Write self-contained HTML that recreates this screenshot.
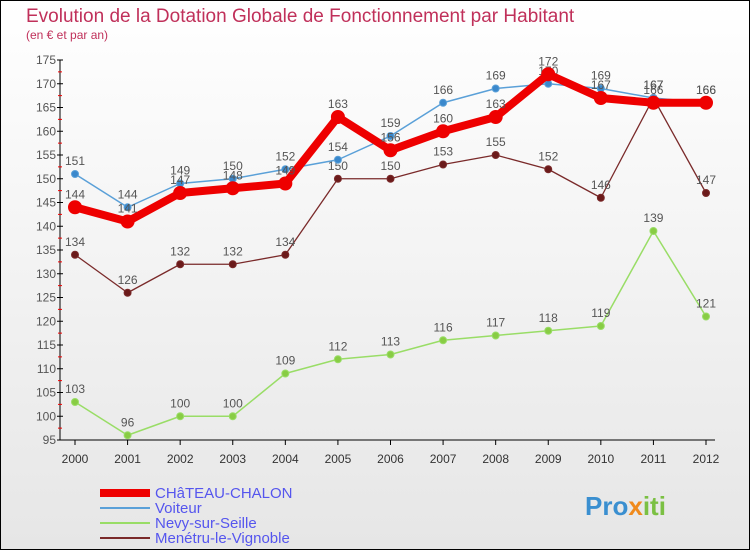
<!DOCTYPE html>
<html><head><meta charset="utf-8"><style>
html,body{margin:0;padding:0}
body{width:750px;height:550px;overflow:hidden;font-family:"Liberation Sans",sans-serif}
svg{display:block}
</style></head><body>
<svg id="c" width="750" height="550" xmlns="http://www.w3.org/2000/svg">
<defs><linearGradient id="bg" x1="0" y1="0" x2="0" y2="1"><stop offset="0" stop-color="#ffffff"/><stop offset="1" stop-color="#e6e6e6"/></linearGradient></defs>
<rect x="0.5" y="0.5" width="749" height="549" fill="url(#bg)" stroke="#000"/>
<text x="26" y="22" font-size="19" fill="#c0305a">Evolution de la Dotation Globale de Fonctionnement par Habitant</text>
<text x="26" y="39" font-size="12" fill="#c0305a">(en € et par an)</text>
<g id="axes"></g>
<g id="series"></g>
<g id="legend"></g>
<text x="585" y="515" font-size="26" font-weight="bold" fill="#3a8fd0">Pro<tspan fill="#f08a1c">x</tspan><tspan fill="#7bc043">iti</tspan></text>
</svg>
<script>
const years=[2000,2001,2002,2003,2004,2005,2006,2007,2008,2009,2010,2011,2012];
const chateau=[144,141,147,148,149,163,156,160,163,172,167,166,166];
const voiteur=[151,144,149,150,152,154,159,166,169,170,169,167,166];
const nevy=[103,96,100,100,109,112,113,116,117,118,119,139,121];
const menetru=[134,126,132,132,134,150,150,153,155,152,146,167,147];
const yTicks=[95,100,105,110,115,120,125,130,135,140,145,150,155,160,165,170,175];
const NS="http://www.w3.org/2000/svg";
function X(i){return 75+i*(706-75)/12;}
function Y(v){return 440-(v-95)*(380/80);}
function mk(t,a,p){const e=document.createElementNS(NS,t);for(const k in a)e.setAttribute(k,a[k]);p.appendChild(e);return e;}
const ax=document.getElementById('axes');
let yl=mk('line',{x1:60,y1:Y(175),x2:60,y2:440,stroke:'#000'},ax);


let xl=mk('line',{x1:60,y1:440,x2:715,y2:440,stroke:'#000'},ax);


yTicks.forEach(v=>{
 mk('line',{x1:57,y1:Y(v),x2:63,y2:Y(v),stroke:'#000'},ax);
 if(v<175) mk('line',{x1:58,y1:Y(v+2.5),x2:62,y2:Y(v+2.5),stroke:'#e00'},ax);
 const t=mk('text',{x:56,y:Y(v)+4,'font-size':12,'text-anchor':'end',fill:'#555'},ax);t.textContent=v;
 
 
});
years.forEach((y,i)=>{
 mk('line',{x1:X(i),y1:440,x2:X(i),y2:445,stroke:'#000'},ax);
 const t=mk('text',{x:X(i),y:463,'font-size':12,'text-anchor':'middle',fill:'#333'},ax);t.textContent=y;
 
 
});
const sg=document.getElementById('series');
function draw(data,color,w,r,dot,name){
 const g=mk('g',{},sg);
 
 
 mk('polyline',{points:data.map((v,i)=>X(i)+','+Y(v)).join(' '),fill:'none',stroke:color,'stroke-width':w,'stroke-linejoin':'round'},g);
 data.forEach((v,i)=>{
  const c=mk('circle',{cx:X(i),cy:Y(v),r:r,fill:dot,stroke:color,'stroke-width':1},g);
  
  
  const t=mk('text',{x:X(i),y:Y(v)-9,'font-size':12,'text-anchor':'middle',fill:'#555'},g);t.textContent=v;
  
  
 });
}
draw(menetru,'#7a2a2a',1.3,3.5,'#6b1a1a','series-menetru');
draw(nevy,'#99dd66',1.5,3.5,'#88cc44','series-nevy');
draw(voiteur,'#5aa0d8',1.5,3.5,'#3a88cc','series-voiteur');
draw(chateau,'#ee0000',8,6.5,'#ee0000','series-chateau');
const lg=document.getElementById('legend');
const items=[['CHâTEAU-CHALON','#ee0000',8],['Voiteur','#5aa0d8',2],['Nevy-sur-Seille','#99dd66',2],['Menétru-le-Vignoble','#7a2a2a',2]];
items.forEach((it,i)=>{
 const y=493+i*15;
 const l=mk('line',{x1:100,y1:y,x2:150,y2:y,stroke:it[1],'stroke-width':it[2]},lg);
 
 
 const t=mk('text',{x:155,y:y+5,'font-size':15,fill:'#5555ee'},lg);t.textContent=it[0];
 
 
});
</script>
</body></html>
